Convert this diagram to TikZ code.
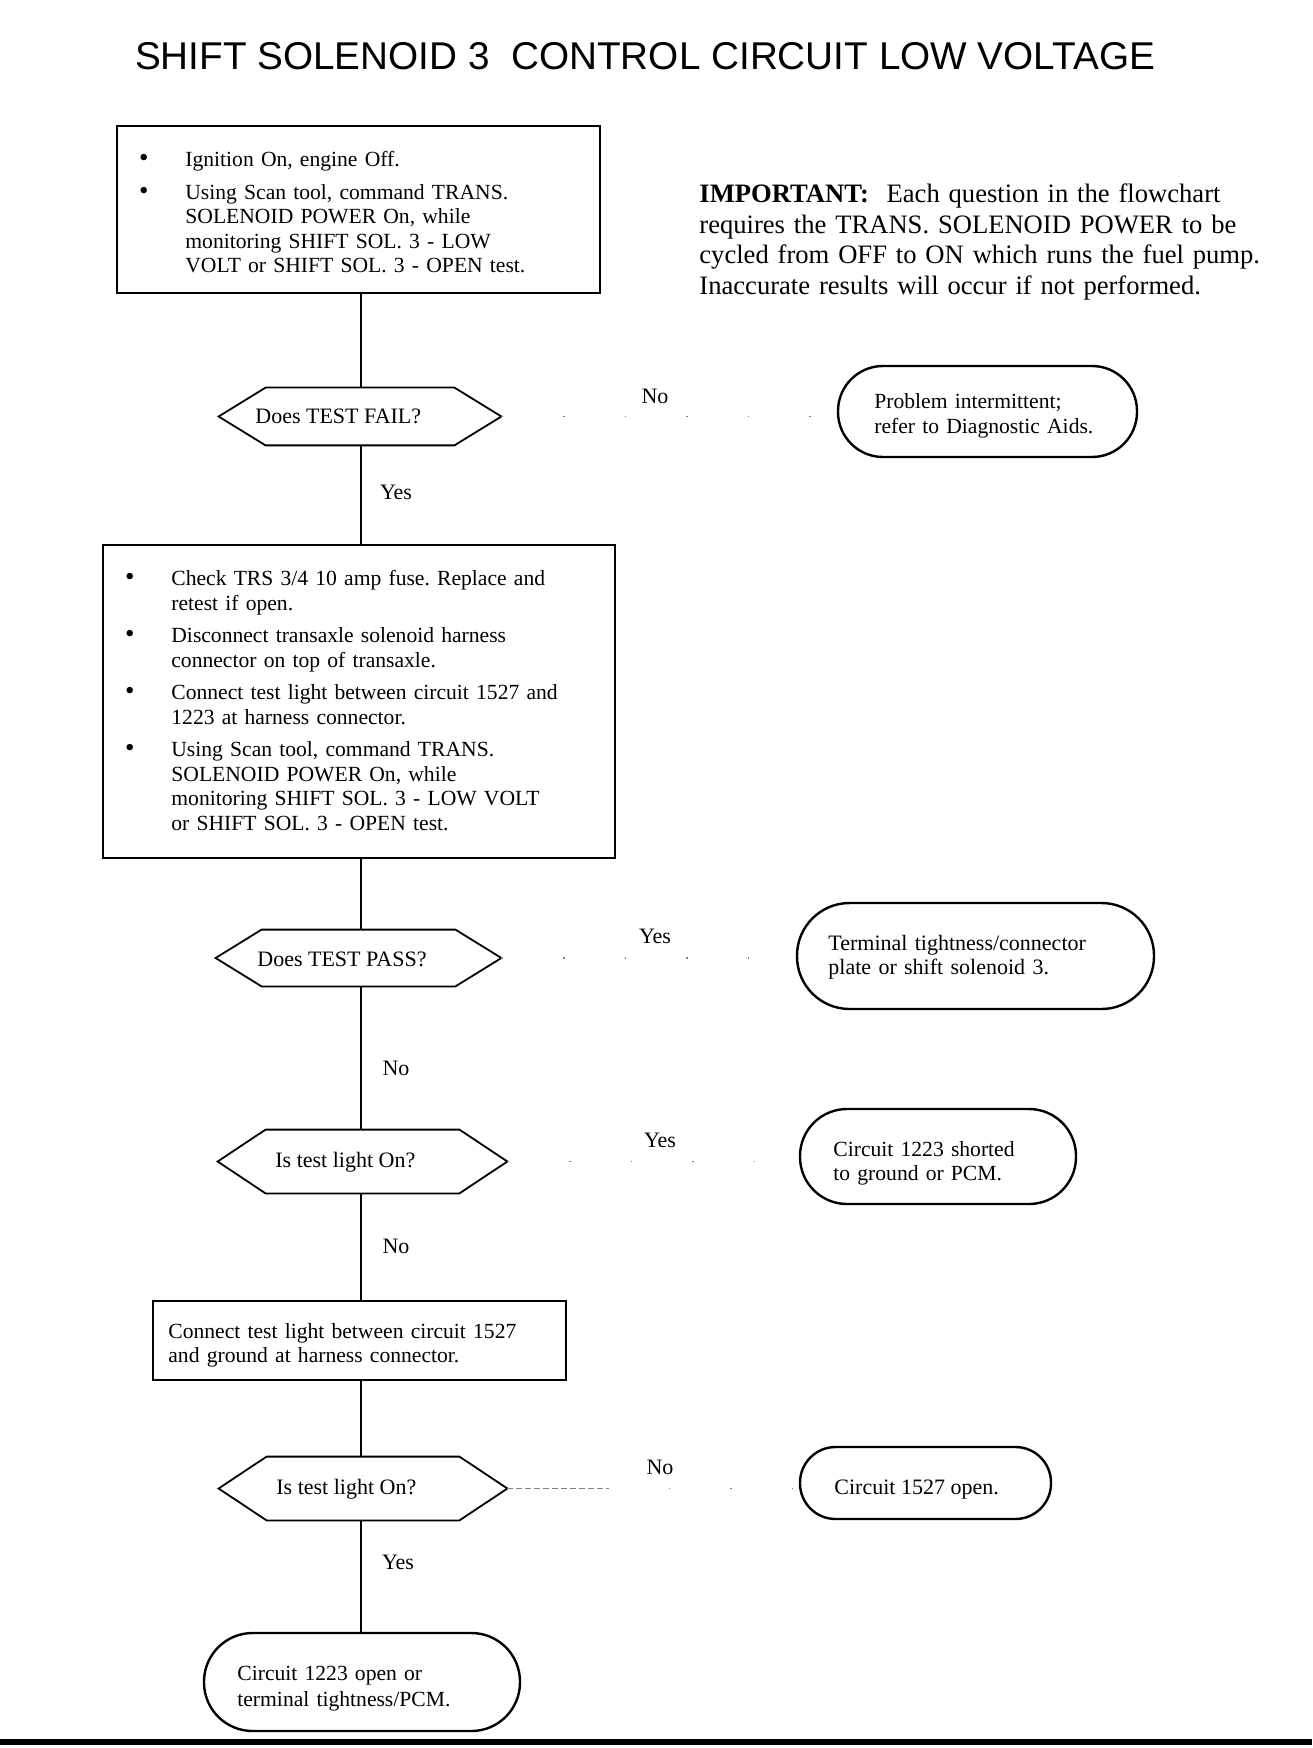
\documentclass[tikz,border=0pt]{standalone}
\usepackage{fontspec}
\setmainfont{Liberation Serif}
\newfontfamily\titlefont{Liberation Sans}
\usetikzlibrary{calc}
\frenchspacing
\newcommand{\nl}{\hfil\break}
\newcommand{\bitem}[1]{\hangindent=23.5pt\hangafter=1\noindent\makebox[23.5pt][l]{\hspace{0.3pt}\scalebox{1.25}{\textbullet}}#1\par}
\newcommand{\hexpath}[2]{\draw[hexline] (#1.west) -- ([xshift=#2]#1.north west) -- ([xshift=-#2]#1.north east) -- (#1.east) -- ([xshift=-#2]#1.south east) -- ([xshift=#2]#1.south west) -- cycle;}
\begin{document}
\begin{tikzpicture}[x=0.5pt,y=-0.5pt,
  box/.style={draw, line width=1.3pt, inner sep=0pt},
  hexshape/.style={inner sep=0pt},
  hexline/.style={line width=0.9pt, line join=miter},
  term/.style={draw, line width=1.2pt, inner sep=0pt},
  txt/.style={inner sep=0pt, align=left, font=\fontsize{10.8}{12.25}\selectfont},
  lbl/.style={inner sep=0pt, font=\fontsize{11}{12.25}\selectfont},
  flow/.style={line width=1pt},
  faint/.style={line width=0.6pt, gray, dash pattern=on 0.8pt off 30pt}
]
\useasboundingbox (0,0) rectangle (1312,1748);
\fill[white] (0,0) rectangle (1312,1748);

% title
\node[inner sep=0pt, anchor=base, font=\titlefont\fontsize{19.35}{22}\selectfont] (title) at (645,70)
  {SHIFT SOLENOID 3\ \ CONTROL CIRCUIT LOW VOLTAGE};

% important note
\node[inner sep=0pt, anchor=base west, align=left, text width=300pt,
      font=\fontsize{13.3}{15.2}\selectfont] (imp) at (699,203)
  {\textbf{IMPORTANT:}\ \ Each question in the flowchart\\
   requires the TRANS. SOLENOID POWER to be\\
   cycled from OFF to ON which runs the fuel pump.\\
   Inaccurate results will occur if not performed.};

\coordinate (axis) at (361,0);

% box 1
\node[box, minimum width=241.5pt, minimum height=83.5pt] (b1) at (358.5,209.5) {};
\node[txt, anchor=base west, text width=220.5pt] (b1t) at (138,167)
  {\bitem{Ignition On, engine Off.}\vspace{4pt}%
   \bitem{Using Scan tool, command TRANS.\nl SOLENOID POWER On, while\nl monitoring SHIFT SOL. 3 - LOW\nl VOLT or SHIFT SOL. 3 - OPEN test.}};

% decision 1
\node[hexshape, minimum width=141pt, minimum height=28.5pt] (d1) at (360,416.5) {};
\hexpath{d1}{23.5pt}
\node[lbl, anchor=base west] (d1t) at (255,424) {Does TEST FAIL?};

% terminal 1
\node[term, rounded corners=22.5pt, minimum width=149.5pt, minimum height=45.5pt] (t1) at (987.5,411.5) {};
\node[txt, anchor=base west, text width=120pt] (t1t) at (874,409)
  {Problem intermittent;\\ refer to Diagnostic Aids.};

% box 2
\node[box, minimum width=256pt, minimum height=156.5pt] (b2) at (359,701.5) {};
\node[txt, anchor=base west, text width=235pt] (b2t) at (124,585.5)
  {\bitem{Check TRS 3/4 10 amp fuse. Replace and\nl retest if open.}\vspace{4pt}%
   \bitem{Disconnect transaxle solenoid harness\nl connector on top of transaxle.}\vspace{4pt}%
   \bitem{Connect test light between circuit 1527 and\nl 1223 at harness connector.}\vspace{4pt}%
   \bitem{Using Scan tool, command TRANS.\nl SOLENOID POWER On, while\nl monitoring SHIFT SOL. 3 - LOW VOLT\nl or SHIFT SOL. 3 - OPEN test.}};

% decision 2
\node[hexshape, minimum width=142.5pt, minimum height=28pt] (d2) at (358.5,958) {};
\hexpath{d2}{23pt}
\node[lbl, anchor=base west] (d2t) at (257,966) {Does TEST PASS?};

% terminal 2
\node[term, rounded corners=26.3pt, minimum width=178.5pt, minimum height=53pt] (t2) at (975.5,956) {};
\node[txt, anchor=base west, text width=150pt, font=\fontsize{11}{12.25}\selectfont] (t2t) at (828,950)
  {Terminal tightness/connector\\ plate or shift solenoid 3.};

% decision 3
\node[hexshape, minimum width=144.5pt, minimum height=31.5pt] (d3) at (362.5,1161.5) {};
\hexpath{d3}{24pt}
\node[lbl, anchor=base west] (d3t) at (275,1167) {Is test light On?};

% terminal 3
\node[term, rounded corners=23.5pt, minimum width=138pt, minimum height=47.5pt] (t3) at (938,1156.5) {};
\node[txt, anchor=base west, text width=110pt] (t3t) at (833,1156)
  {Circuit 1223 shorted\\ to ground or PCM.};

% box 3
\node[box, minimum width=206.5pt, minimum height=39.5pt] (b3) at (359.5,1340.5) {};
\node[txt, anchor=base west, text width=191.5pt] (b3t) at (168,1338)
  {Connect test light between circuit 1527\\ and ground at harness connector.};

% decision 4
\node[hexshape, minimum width=144pt, minimum height=31.5pt] (d4) at (363,1488.5) {};
\hexpath{d4}{24pt}
\node[lbl, anchor=base west] (d4t) at (276,1494) {Is test light On?};

% terminal 4
\node[term, rounded corners=17.8pt, minimum width=125.5pt, minimum height=36pt] (t4) at (925.5,1483) {};
\node[lbl, anchor=base west] (t4t) at (834,1494) {Circuit 1527 open.};

% terminal 5
\node[term, rounded corners=24.3pt, minimum width=158pt, minimum height=49pt] (t5) at (362,1682) {};
\node[txt, anchor=base west, text width=130pt] (t5t) at (237,1680)
  {Circuit 1223 open or\\[0.75pt] terminal tightness/PCM.};

% vertical flow
\draw[flow] (b1.south -| axis) -- (d1.north -| axis);
\draw[flow] (d1.south -| axis) -- (b2.north -| axis);
\draw[flow] (b2.south -| axis) -- (d2.north -| axis);
\draw[flow] (d2.south -| axis) -- (d3.north -| axis);
\draw[flow] (d3.south -| axis) -- (b3.north -| axis);
\draw[flow] (b3.south -| axis) -- (d4.north -| axis);
\draw[flow] (d4.south -| axis) -- (t5.north -| axis);

% horizontal (faded) connectors
\draw[faint] (d1.east) -- (d1.east -| t1.west);
\draw[faint] (d2.east) -- (d2.east -| t2.west);
\draw[faint] (d3.east) -- (d3.east -| t3.west);
\coordinate (d4fade) at (607,0);
\draw[faint, dash pattern=on 3pt off 1.5pt] (d4.east) -- (d4.east -| d4fade);
\draw[faint] (d4.east -| d4fade) -- (d4.east -| t4.west);

% branch labels
\node[lbl] (l1) at (655,396) {No};
\node[lbl] (l2) at (396,492) {Yes};
\node[lbl] (l3) at (655,936) {Yes};
\node[lbl] (l4) at (396,1068) {No};
\node[lbl] (l5) at (660,1140) {Yes};
\node[lbl] (l6) at (396,1246) {No};
\node[lbl] (l7) at (660,1467) {No};
\node[lbl] (l8) at (398,1562) {Yes};

% bottom rule
\fill[black] (0,1739) rectangle (1312,1745);
\end{tikzpicture}
\end{document}
